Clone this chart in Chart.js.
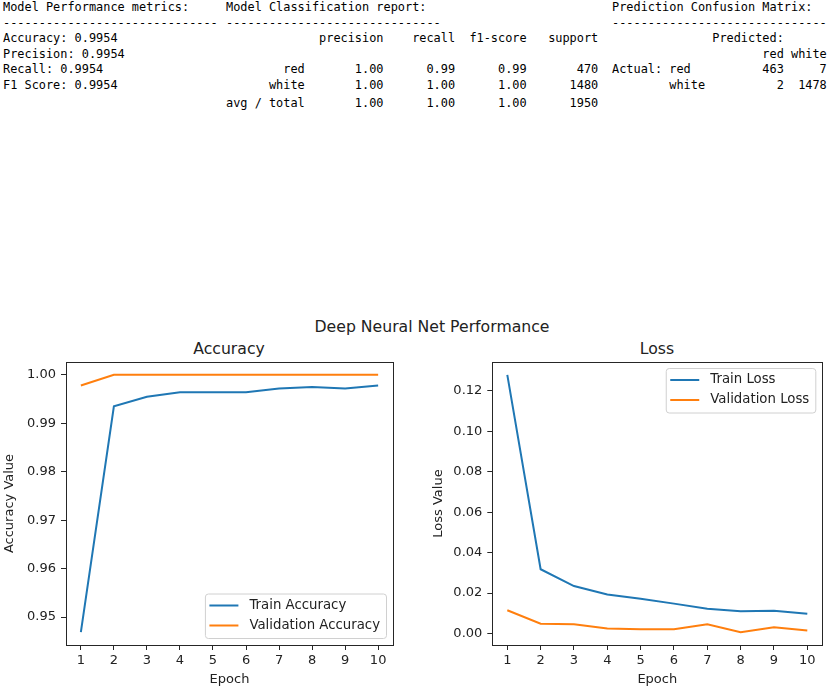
<!DOCTYPE html>
<html>
<head>
<meta charset="utf-8">
<title>Deep Neural Net Performance</title>
<script src="https://cdn.jsdelivr.net/npm/chart.js@4.4.1/dist/chart.umd.min.js"></script>
<style>
    html, body {
        margin: 0;
        padding: 0;
        background: #fff;
    }
    body {
        position: relative;
        width: 830px;
        height: 689px;
        overflow: hidden;
    }
    pre.report {
        position: absolute;
        margin: 0;
        font-family: "DejaVu Sans Mono", "Liberation Mono", monospace;
        font-size: 11.9px;
        line-height: 15.6px;
        color: #000;
    }
    .title {
        position: absolute;
        font-family: "DejaVu Sans", sans-serif;
        font-size: 15.7px;
        line-height: 20px;
        color: #222;
        text-align: center;
        white-space: nowrap;
    }
    canvas {
        position: absolute;
    }
</style>
</head>
<body>
<pre class="report" style="left:3px; top:0px">Model Performance metrics:
------------------------------
Accuracy: 0.9954
Precision: 0.9954
Recall: 0.9954
F1 Score: 0.9954</pre>
<pre class="report" style="left:226px; top:0px">Model Classification report:
------------------------------
             precision    recall  f1-score   support

        red       1.00      0.99      0.99       470
      white       1.00      1.00      1.00      1480</pre>
<pre class="report" style="left:226px; top:95.5px">avg / total       1.00      1.00      1.00      1950</pre>
<pre class="report" style="left:612px; top:0px">Prediction Confusion Matrix:
------------------------------
              Predicted:
                     red white
Actual: red          463     7
        white          2  1478</pre>

<div class="title" style="left:232px; width:400px; top:316.5px">Deep Neural Net Performance</div>
<div class="title" style="left:129px; width:200px; top:339px">Accuracy</div>
<div class="title" style="left:557px; width:200px; top:339px">Loss</div>

<canvas id="accuracyChart" width="415" height="349" style="left:0px; top:340px; width:415px; height:349px"></canvas>
<canvas id="lossChart" width="415" height="349" style="left:415px; top:340px; width:415px; height:349px"></canvas>

<script>
const epochs = [1, 2, 3, 4, 5, 6, 7, 8, 9, 10];

const trainAccuracy = [0.9469, 0.9935, 0.9955, 0.9964, 0.9964, 0.9964, 0.9972, 0.9975, 0.9972, 0.9978];
const validationAccuracy = [0.9978, 1.0, 1.0, 1.0, 1.0, 1.0, 1.0, 1.0, 1.0, 1.0];

const trainLoss = [0.1279, 0.0318, 0.0235, 0.0193, 0.0172, 0.0148, 0.0123, 0.0110, 0.0113, 0.0098];
const validationLoss = [0.0115, 0.0049, 0.0046, 0.0025, 0.0021, 0.0021, 0.0046, 0.0007, 0.0031, 0.0015];

const accuracyTicks = [0.95, 0.96, 0.97, 0.98, 0.99, 1.00];
const lossTicks = [0.00, 0.02, 0.04, 0.06, 0.08, 0.10, 0.12];

const BLUE = "#1f77b4";
const ORANGE = "#ff7f0e";
const TEXT = "#222";

Chart.defaults.font.family = '"DejaVu Sans", sans-serif';
Chart.defaults.font.size = 13;
Chart.defaults.color = TEXT;

function toPoints(values) {
    return values.map((y, i) => ({ x: epochs[i], y }));
}

// matplotlib-style autoscale: data range plus 5% on each side
function paddedRange(...series) {
    const all = series.flat();
    const lo = Math.min(...all);
    const hi = Math.max(...all);
    const pad = (hi - lo) * 0.05;
    return { min: lo - pad, max: hi + pad };
}

// full box round the plot area, like matplotlib spines
const frame = {
    id: "frame",
    afterDatasetsDraw(chart) {
        const { ctx, chartArea: a } = chart;
        ctx.save();
        ctx.strokeStyle = "#262626";
        ctx.lineWidth = 1;
        ctx.strokeRect(Math.round(a.left) + 0.5, Math.round(a.top) + 0.5,
            Math.round(a.right - a.left), Math.round(a.bottom - a.top));
        ctx.restore();
    },
};

// legend drawn inside the axes, the way plt.legend() places it
const insideLegend = {
    id: "insideLegend",
    afterDraw(chart, args, opts) {
        const { ctx, chartArea: a } = chart;
        const datasets = chart.data.datasets;
        ctx.save();
        ctx.font = '13.3px "DejaVu Sans", sans-serif';
        const textW = Math.max(...datasets.map((d) => ctx.measureText(d.label).width));
        const w = 44 + textW + 6.5;
        const h = 44.5;
        const x = a.right - 6.5 - w;
        const y = opts.corner === "lower right" ? a.bottom - 6.5 - h : a.top + 6.5;

        ctx.beginPath();
        ctx.roundRect(x, y, w, h, 3);
        ctx.fillStyle = "rgba(255,255,255,0.8)";
        ctx.fill();
        ctx.strokeStyle = "#d0d0d0";
        ctx.lineWidth = 1;
        ctx.stroke();

        datasets.forEach((d, i) => {
            const cy = y + 11.5 + i * 20;
            ctx.beginPath();
            ctx.moveTo(x + 4, cy);
            ctx.lineTo(x + 33, cy);
            ctx.strokeStyle = d.borderColor;
            ctx.lineWidth = 2;
            ctx.stroke();
            ctx.fillStyle = TEXT;
            ctx.textBaseline = "middle";
            ctx.fillText(d.label, x + 44, cy);
        });
        ctx.restore();
    },
};

function makeChart(canvasId, cfg) {
    const range = paddedRange(cfg.train, cfg.validation);
    return new Chart(document.getElementById(canvasId), {
        type: "line",
        data: {
            datasets: [
                { label: cfg.labels[0], data: toPoints(cfg.train), borderColor: BLUE, backgroundColor: BLUE },
                { label: cfg.labels[1], data: toPoints(cfg.validation), borderColor: ORANGE, backgroundColor: ORANGE },
            ],
        },
        options: {
            responsive: false,
            animation: false,
            devicePixelRatio: 1,
            layout: { padding: { left: cfg.padLeft, right: cfg.padRight, top: 22, bottom: 0 } },
            elements: {
                line: { borderWidth: 2, tension: 0 },
                point: { radius: 0, hoverRadius: 0 },
            },
            plugins: {
                legend: { display: false },
                tooltip: { enabled: false },
                insideLegend: { corner: cfg.legendCorner },
            },
            scales: {
                x: {
                    type: "linear",
                    min: 0.55,
                    max: 10.45,
                    afterBuildTicks: (scale) => {
                        scale.ticks = epochs.map((v) => ({ value: v }));
                    },
                    afterFit: (scale) => {
                        scale.height = 44;
                    },
                    ticks: { autoSkip: false, maxRotation: 0, padding: 3, callback: (v) => String(v) },
                    grid: { drawOnChartArea: false, tickLength: 5, tickColor: "#262626" },
                    border: { display: false },
                    title: { display: true, text: "Epoch", padding: { top: 0, bottom: 2 } },
                },
                y: {
                    min: range.min,
                    max: range.max,
                    afterBuildTicks: (scale) => {
                        scale.ticks = cfg.ticks.map((v) => ({ value: v }));
                    },
                    afterFit: (scale) => {
                        scale.width = cfg.axisWidth;
                    },
                    ticks: { padding: 5, callback: (v) => v.toFixed(2) },
                    grid: { drawOnChartArea: false, tickLength: 5, tickColor: "#262626" },
                    border: { display: false },
                    title: { display: true, text: cfg.axisTitle, padding: { top: 2, bottom: 0 } },
                },
            },
        },
        plugins: [frame, insideLegend],
    });
}

makeChart("accuracyChart", {
    train: trainAccuracy,
    validation: validationAccuracy,
    labels: ["Train Accuracy", "Validation Accuracy"],
    ticks: accuracyTicks,
    axisTitle: "Accuracy Value",
    legendCorner: "lower right",
    padLeft: 0,
    padRight: 22,
    axisWidth: 66,
});

makeChart("lossChart", {
    train: trainLoss,
    validation: validationLoss,
    labels: ["Train Loss", "Validation Loss"],
    ticks: lossTicks,
    axisTitle: "Loss Value",
    legendCorner: "upper right",
    padLeft: 13.5,
    padRight: 7.7,
    axisWidth: 63.8,
});
</script>
</body>
</html>
